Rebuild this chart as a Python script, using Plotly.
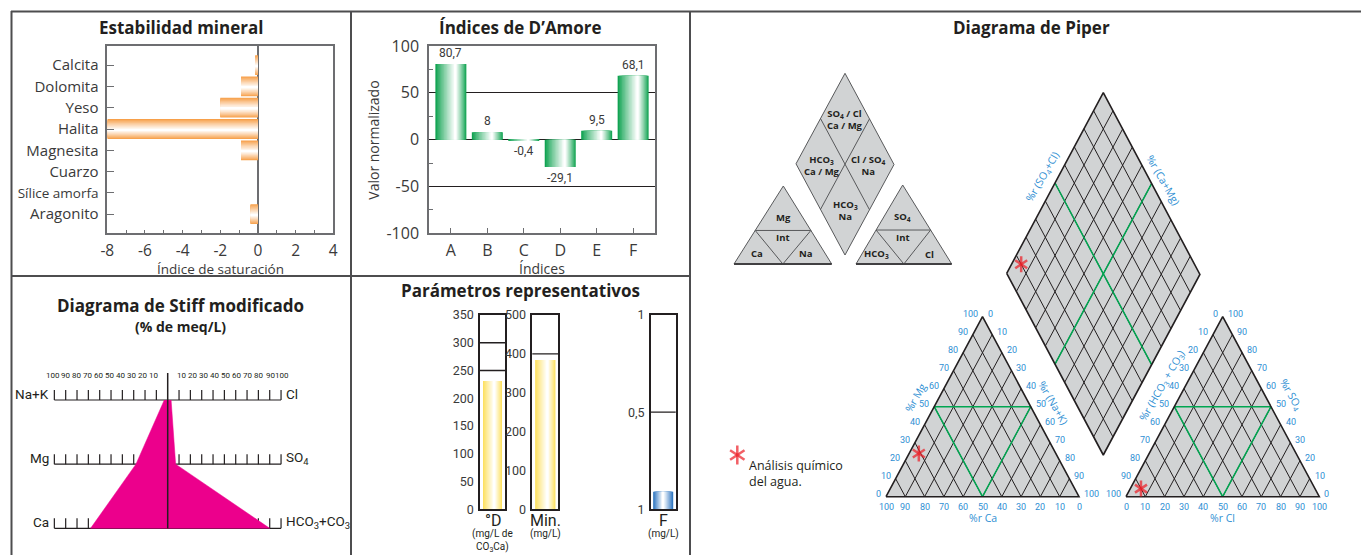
import plotly.graph_objects as go

# The page body has an 8 px margin: the figure starts 8 px right/down of the window corner.
OX, OY = 8, 8
W, H = 1361, 547

# ------------------------------------------------------------------ data
minerals = ["Calcita", "Dolomita", "Yeso", "Halita", "Magnesita", "Cuarzo", "Sílice amorfa", "Aragonito"]
saturation_index = [-0.15, -0.9, -2.0, -8.0, -0.9, 0.0, 0.0, -0.4]
sat_major = [-8, -6, -4, -2, 0, 2, 4]
sat_minor = list(range(-8, 5))

damore_indices = ["A", "B", "C", "D", "E", "F"]
damore_values = [80.7, 8.0, -0.4, -29.1, 9.5, 68.1]
damore_ticks = [-100, -50, 0, 50, 100]

stiff_cations = ["Na+K", "Mg", "Ca"]
stiff_anions = ["Cl", "SO<sub>4</sub>", "HCO<sub>3</sub>+CO<sub>3</sub>"]
stiff_cation_pct = [3, 28, 68]
stiff_anion_pct = [3, 7, 90]
stiff_scale = [10, 20, 30, 40, 50, 60, 70, 80, 90, 100]

param_names = ["°D", "Min.", "F"]
param_units = ["(mg/L de<br>CO<sub>3</sub>Ca)", "(mg/L)", "(mg/L)"]
param_values = [231, 384, 0.09]
param_max = [350, 500, 1]
param_tickvals = [[0, 50, 100, 150, 200, 250, 300, 350], [0, 100, 200, 300, 400, 500], [0, 0.5, 1]]
param_ticktext = [[str(v) for v in param_tickvals[0]], [str(v) for v in param_tickvals[1]], ["1", "0,5", "1"]]
param_limits = [[250, 300], [400], [0.5]]

piper_cations = {"Ca": 71, "Mg": 24, "NaK": 5}
piper_anions = {"HCO3": 90, "SO4": 4.5, "Cl": 5.5}

# ------------------------------------------------------------------ style
FONT = "Open Sans, Noto Sans, sans-serif"
NARROW = "Liberation Sans Narrow, Roboto, sans-serif"
TXT = "#231f20"
TICK = "#3a3a3a"
FRAME = "#6d6e71"
BORDER = "#4d4d4f"
ORANGE = "#f7a04a"
GREEN = "#11a352"
YELLOW = "#fde05e"
BLUE = "#2a73bf"
MAGENTA = "#ec008c"
PGREY = "#d1d3d4"
PGREEN = "#00a651"
PBLUE = "#2f8fd3"
RED = "#ed1c24"


def dom_x(a, b):
    return [(a - OX) / W, (b - OX) / W]


def dom_y(top, bottom):
    return [1 - (bottom - OY) / H, 1 - (top - OY) / H]


def hex2rgb(h):
    h = h.lstrip("#")
    return tuple(int(h[i:i + 2], 16) for i in (0, 2, 4))


def mix(c, t):
    r, g, b = hex2rgb(c)
    return "rgb(%d,%d,%d)" % (round(r + (255 - r) * t), round(g + (255 - g) * t), round(b + (255 - b) * t))


fig = go.Figure()
anns = []
shapes = []
axes = {}


def ann(x, y, text, size=14, color=TXT, family=FONT, xanchor="center", yanchor="middle",
        xref="x", yref="y", **kw):
    anns.append(dict(x=x, y=y, text=text, xref=xref, yref=yref, showarrow=False,
                     xanchor=xanchor, yanchor=yanchor,
                     font=dict(size=size, color=color, family=family), **kw))


def gradient_bar(cats, vals, color, xa, ya, width, center, horizontal=False, n=14):
    for k in range(n):
        t = k / n
        lo = -width / 2 + t * center * width
        hi = width / 2 - t * (1 - center) * width
        col = mix(color, (k / (n - 1)) ** 0.9)
        common = dict(width=hi - lo, offset=lo, marker=dict(color=col, line=dict(width=0)),
                      showlegend=False, hoverinfo="skip", xaxis=xa, yaxis=ya)
        if horizontal:
            fig.add_trace(go.Bar(y=cats, x=vals, orientation="h", **common))
        else:
            fig.add_trace(go.Bar(x=cats, y=vals, **common))


# ------------------------------------------------------------------ canvas (window pixels)
axes["xaxis"] = dict(domain=[0, 1], range=[OX, OX + W], visible=False)
axes["yaxis"] = dict(domain=[0, 1], range=[OY + H, OY], visible=False)

for (x0, y0, x1, y1) in [(11, 11.5, OX + W, 11.5), (11.5, 11, 11.5, OY + H), (351, 11, 351, OY + H),
                         (690, 11, 690, OY + H), (11, 276, 690, 276)]:
    shapes.append(dict(type="line", xref="x", yref="y", x0=x0, x1=x1, y0=y0, y1=y1,
                       line=dict(color=BORDER, width=2)))

ann(180.5, 27.7, "<b>Estabilidad mineral</b>", size=17)
ann(520.7, 27.7, "<b>Índices de D’Amore</b>", size=17)
ann(1031, 27.7, "<b>Diagrama de Piper</b>", size=17)
ann(180.7, 305, "<b>Diagrama de Stiff modificado</b>", size=17)
ann(180.7, 326.7, "<b>(% de meq/L)</b>", size=14)
ann(520.7, 290.7, "<b>Parámetros representativos</b>", size=17)

# ------------------------------------------------------------------ panel 1: Estabilidad mineral
axes["xaxis2"] = dict(domain=dom_x(107.3, 333.3), anchor="y2", range=[-8, 4], tickmode="array",
                      tickvals=sat_major, ticktext=[str(v) for v in sat_major],
                      ticks="inside", ticklen=4, tickcolor=FRAME,
                      minor=dict(tickvals=sat_minor, ticks="inside", ticklen=4, tickcolor=FRAME, showgrid=False),
                      showline=True, mirror=True,
                      linecolor=FRAME, linewidth=1.5, showgrid=False, zeroline=True,
                      zerolinecolor=FRAME, zerolinewidth=1.5,
                      tickfont=dict(family=FONT, size=15.5, color=TICK), ticklabelstandoff=2)
tick_names = [m if m != "Sílice amorfa" else '<span style="font-size:13.5px">Sílice amorfa</span>' for m in minerals]
axes["yaxis2"] = dict(domain=dom_y(46, 233.3), anchor="x2", type="category", categoryorder="array",
                      categoryarray=minerals, tickmode="array", tickvals=minerals, ticktext=tick_names,
                      range=[7.9, -0.9], ticks="inside", ticklen=7,
                      tickcolor=FRAME, showline=True, mirror=True, linecolor=FRAME, linewidth=1.5,
                      showgrid=False, tickfont=dict(family=FONT, size=15, color=TICK),
                      ticklabelstandoff=4)
gradient_bar(minerals, saturation_index, ORANGE, "x2", "y2", 0.93, 0.55, horizontal=True)
ann(220, 268.5, "Índice de saturación", size=13.5, color=TICK)

# ------------------------------------------------------------------ panel 2: D'Amore
axes["xaxis3"] = dict(domain=dom_x(429, 655), anchor="y3", type="category", categoryorder="array",
                      categoryarray=damore_indices, range=[-0.6, 5.6], ticks="inside", ticklen=6,
                      tickcolor=FRAME, showline=True, mirror=True, linecolor=FRAME, linewidth=1.5,
                      showgrid=False, tickfont=dict(family=FONT, size=16, color=TICK),
                      ticklabelstandoff=2)
axes["yaxis3"] = dict(domain=dom_y(46, 233.3), anchor="x3", range=[-100, 100], tickmode="array",
                      tickvals=damore_ticks, ticktext=[str(v) for v in damore_ticks], ticks="",
                      showline=True, mirror=True, linecolor=FRAME, linewidth=1.5, showgrid=True,
                      gridcolor=TXT, gridwidth=1, zeroline=True, zerolinecolor=TXT, zerolinewidth=1,
                      minor=dict(tickvals=[-75, -25, 25, 75], ticks="inside", ticklen=4, tickcolor=FRAME,
                                 showgrid=False),
                      tickfont=dict(family=FONT, size=16, color=TICK), ticklabelstandoff=5)
gradient_bar(damore_indices, damore_values, GREEN, "x3", "y3", 0.85, 0.65)
for c, v in zip(damore_indices, damore_values):
    lab = ("%g" % v).replace(".", ",")
    ann(c, v, lab, size=12, color=TICK, family=NARROW, xref="x3", yref="y3",
        yanchor="bottom" if v > 0 else "top", yshift=2 if v > 0 else -2)
ann(541.7, 268, "Índices", size=14, color=TICK)
ann(372.7, 140, "Valor normalizado", size=14, color=TICK, textangle=-90)

# ------------------------------------------------------------------ panel 3: Stiff
SCX, SK = 167.7, 1.1335        # window px of 0 %, px per %
SR0, SDR = 400.0, 64.15        # window px of first row, px per row
SX0, SX1, SY0, SY1 = 15, 345, 355, 548
axes["xaxis4"] = dict(domain=dom_x(SX0, SX1), anchor="y4", visible=False,
                      range=[(SX0 - SCX) / SK, (SX1 - SCX) / SK])
axes["yaxis4"] = dict(domain=dom_y(SY0, SY1), anchor="x4", visible=False,
                      range=[(SY1 - SR0) / SDR, (SY0 - SR0) / SDR])
tick_h = 10 / SDR
sx, sy = [], []
for r in range(len(stiff_cations)):
    sx += [-100, 100, None]
    sy += [r, r, None]
    for s in stiff_scale:
        for sg in (-1, 1):
            sx += [sg * s, sg * s, None]
            sy += [r, r - tick_h, None]
fig.add_trace(go.Scatter(x=sx, y=sy, mode="lines", line=dict(color=TXT, width=1.2),
                         xaxis="x4", yaxis="y4", hoverinfo="skip", showlegend=False))
rows = list(range(len(stiff_cations)))
poly_x = [-v for v in stiff_cation_pct] + stiff_anion_pct[::-1]
poly_y = rows + rows[::-1]
fig.add_trace(go.Scatter(x=poly_x, y=poly_y, mode="lines", fill="toself", fillcolor=MAGENTA,
                         line=dict(color=MAGENTA, width=0.5), xaxis="x4", yaxis="y4",
                         hoverinfo="skip", showlegend=False))
fig.add_trace(go.Scatter(x=[0, 0], y=[(373 - SR0) / SDR, rows[-1]], mode="lines",
                         line=dict(color=TXT, width=1.5), xaxis="x4", yaxis="y4",
                         hoverinfo="skip", showlegend=False))
scale_row = (375 - SR0) / SDR
for s in stiff_scale:
    for sg in (-1, 1):
        # labels sit slightly nearer the centre than their ticks, as in the printed scale
        ann(sg * (2.5 + 0.975 * s), scale_row, str(s), size=8, family=NARROW, xref="x4", yref="y4",
            xshift=sg * (1.2 if s == 100 else 0))
for r, (cn, an_) in enumerate(zip(stiff_cations, stiff_anions)):
    ann(-100, r, cn, size=13.5, family=NARROW, xref="x4", yref="y4", xanchor="right", xshift=-3, yshift=6)
    ann(100, r, an_, size=13.5, family=NARROW, xref="x4", yref="y4", xanchor="left", xshift=3, yshift=6)

# ------------------------------------------------------------------ panel 4: parámetros
gauges = [(480, 505, 0.76), (532.3, 558.3, 0.78), (650.7, 675.7, 0.8)]
gcolors = [YELLOW, YELLOW, BLUE]
gcenter = [0.6, 0.6, 0.5]
for i, ((gx0, gx1, bw), name, units, val, vmax, tv, tt, lims) in enumerate(
        zip(gauges, param_names, param_units, param_values, param_max, param_tickvals,
            param_ticktext, param_limits)):
    xa, ya = "xaxis%d" % (5 + i), "yaxis%d" % (5 + i)
    xs, ys = "x%d" % (5 + i), "y%d" % (5 + i)
    axes[xa] = dict(domain=dom_x(gx0, gx1), anchor=ys, range=[-0.5, 0.5], showline=True, mirror=True,
                    linecolor=TXT, linewidth=1.5, showticklabels=False, ticks="", showgrid=False,
                    zeroline=False)
    axes[ya] = dict(domain=dom_y(315, 509.3), anchor=xs, range=[0, vmax], tickmode="array",
                    tickvals=tv, ticktext=tt, ticks="", showline=True, mirror=True, linecolor=TXT,
                    linewidth=1.5, showgrid=False, zeroline=False,
                    tickfont=dict(family=NARROW, size=12.5, color=TICK), ticklabelstandoff=2)
    gradient_bar([0], [val], gcolors[i], xs, ys, bw, gcenter[i])
    for lv in lims:
        shapes.append(dict(type="line", xref=xs + " domain", yref=ys, x0=0, x1=1, y0=lv, y1=lv,
                           line=dict(color=TXT, width=1.3)))
    cx = (gx0 + gx1) / 2
    ann(cx, 520, name, size=16, family=NARROW)
    ann(cx, 526, units, size=10, family=NARROW, yanchor="top")

# ------------------------------------------------------------------ panel 5: Piper
LT = dict(base=(886, 496.7), a=(982.5, 316.7), b=(1079, 496.7))
RT = dict(base=(1126, 496.7), a=(1222.7, 316.7), b=(1319.3, 496.7))
DM = dict(base=(1006.7, 273.3), a=(1103.3, 92.7), b=(1103.3, 455.0))


def P(g, u, v):
    bx, by = g["base"]
    return (bx + u * (g["a"][0] - bx) + v * (g["b"][0] - bx),
            by + u * (g["a"][1] - by) + v * (g["b"][1] - by))


def add_poly(pts, fillcolor, linecolor, width):
    xs = [p[0] for p in pts] + [pts[0][0]]
    ys = [p[1] for p in pts] + [pts[0][1]]
    fig.add_trace(go.Scatter(x=xs, y=ys, mode="lines", fill="toself", fillcolor=fillcolor,
                             line=dict(color=linecolor, width=width), hoverinfo="skip",
                             showlegend=False))


def add_segments(segs, color, width):
    xs, ys = [], []
    for p, q in segs:
        xs += [p[0], q[0], None]
        ys += [p[1], q[1], None]
    fig.add_trace(go.Scatter(x=xs, y=ys, mode="lines", line=dict(color=color, width=width),
                             hoverinfo="skip", showlegend=False))


grid, green = [], []
for g in (LT, RT):
    for k in range(1, 10):
        f = k / 10
        grid.append((P(g, 0, f), P(g, 1 - f, f)))
        grid.append((P(g, 0, 1 - f), P(g, 1 - f, 0)))
    green += [(P(g, .5, 0), P(g, .5, .5)), (P(g, .5, .5), P(g, 0, .5)), (P(g, 0, .5), P(g, .5, 0))]
for k in range(1, 10):
    f = k / 10
    grid.append((P(DM, f, 0), P(DM, f, 1)))
    grid.append((P(DM, 0, f), P(DM, 1, f)))
green += [(P(DM, .5, 0), P(DM, .5, 1)), (P(DM, 0, .5), P(DM, 1, .5))]

for g in (LT, RT):
    add_poly([P(g, 0, 0), P(g, 0, 1), P(g, 1, 0)], PGREY, TXT, 0)
add_poly([P(DM, 0, 0), P(DM, 1, 0), P(DM, 1, 1), P(DM, 0, 1)], PGREY, TXT, 0)
add_segments(grid, TXT, 1)
add_segments(green, PGREEN, 1.5)
for g in (LT, RT):
    add_poly([P(g, 0, 0), P(g, 0, 1), P(g, 1, 0)], "rgba(0,0,0,0)", TXT, 1.6)
add_poly([P(DM, 0, 0), P(DM, 1, 0), P(DM, 1, 1), P(DM, 0, 1)], "rgba(0,0,0,0)", TXT, 1.6)

# key diagram
KD = dict(base=(796, 163.8), a=(845, 73.3), b=(845, 255))
KL = dict(base=(734, 264), a=(783.3, 186), b=(831.7, 264))
KR = dict(base=(856, 264), a=(902.7, 185), b=(951.7, 264))
add_poly([P(KD, 0, 0), P(KD, 1, 0), P(KD, 1, 1), P(KD, 0, 1)], PGREY, "#58595b", 1)
for g in (KL, KR):
    add_poly([P(g, 0, 0), P(g, 0, 1), P(g, 1, 0)], PGREY, "#58595b", 1)
key_lines = [(P(KD, .5, 0), P(KD, .5, 1)), (P(KD, 0, .5), P(KD, 1, .5))]
for g in (KL, KR):
    key_lines += [(P(g, .43, 0), P(g, .43, .57)), (P(g, .43, 0), P(g, 0, .5)), (P(g, .43, .57), P(g, 0, .5))]
add_segments(key_lines, "#58595b", 1)
for g in (KL, KR):
    add_segments([(P(g, 0, 0), P(g, 0, 1))], "#414042", 2)
KS = 9.5
ann(845, 119, "<b>SO<sub>4</sub> / Cl<br>Ca / Mg</b>", size=KS)
ann(821.7, 165, "<b>HCO<sub>3</sub><br>Ca / Mg</b>", size=KS)
ann(868.3, 165, "<b>Cl / SO<sub>4</sub><br>Na</b>", size=KS)
ann(845, 210, "<b>HCO<sub>3</sub><br>Na</b>", size=KS)
ann(783.3, 217.3, "<b>Mg</b>", size=KS)
ann(783.3, 237.3, "<b>Int</b>", size=KS)
ann(756.7, 253.3, "<b>Ca</b>", size=KS)
ann(806, 253.3, "<b>Na</b>", size=KS)
ann(902.7, 216.7, "<b>SO<sub>4</sub></b>", size=KS)
ann(902.7, 237.3, "<b>Int</b>", size=KS)
ann(876, 254, "<b>HCO<sub>3</sub></b>", size=KS)
ann(929.3, 254, "<b>Cl</b>", size=KS)

# tick labels
TS = 9
for k in range(11):
    f = k / 10
    x, y = P(LT, f, 0)
    ann(x, y, str(10 * k), size=TS, color=PBLUE, family=NARROW, xanchor="right", xshift=-3, yshift=3)
    x, y = P(LT, 1 - f, f)
    ann(x, y, str(10 * k), size=TS, color=PBLUE, family=NARROW, xanchor="left", xshift=3, yshift=3)
    x, y = P(LT, 0, f)
    ann(x, y, str(100 - 10 * k), size=TS, color=PBLUE, family=NARROW, yanchor="top", yshift=-3)
    x, y = P(RT, f, 0)
    ann(x, y, str(100 - 10 * k), size=TS, color=PBLUE, family=NARROW, xanchor="right", xshift=-3, yshift=3)
    x, y = P(RT, f, 1 - f)
    ann(x, y, str(10 * k), size=TS, color=PBLUE, family=NARROW, xanchor="left", xshift=3, yshift=3)
    x, y = P(RT, 0, f)
    ann(x, y, str(10 * k), size=TS, color=PBLUE, family=NARROW, yanchor="top", yshift=-3)

AS = 10.5
x, y = P(LT, .55, 0); ann(x - 24, y, "%r Mg", size=AS, color=PBLUE, textangle=-60)
x, y = P(LT, .52, .48); ann(x + 24.5, y, "%r (Na+K)", size=AS, color=PBLUE, textangle=60)
x, y = P(LT, 0, .5); ann(x, y + 21.6, "%r Ca", size=AS, color=PBLUE)
x, y = P(RT, .62, 0); ann(x - 24, y, "%r (HCO<sub>3</sub> + CO<sub>3</sub>)", size=AS, color=PBLUE, textangle=-60)
x, y = P(RT, .565, .435); ann(x + 27, y, "%r SO<sub>4</sub>", size=AS, color=PBLUE, textangle=60)
x, y = P(RT, 0, .5); ann(x, y + 21.6, "%r Cl", size=AS, color=PBLUE)
x, y = P(DM, .535, 0); ann(x - 15.4, y, "%r (SO<sub>4</sub>+Cl)", size=AS, color=PBLUE, textangle=-60)
x, y = P(DM, 1, .483); ann(x + 13, y, "%r (Ca+Mg)", size=AS, color=PBLUE, textangle=60)

# sample points
cat_tot = sum(piper_cations.values())
an_tot = sum(piper_anions.values())
pts = [P(LT, piper_cations["Mg"] / cat_tot, piper_cations["NaK"] / cat_tot),
       P(RT, piper_anions["SO4"] / an_tot, piper_anions["Cl"] / an_tot),
       P(DM, (piper_anions["SO4"] + piper_anions["Cl"]) / an_tot, piper_cations["NaK"] / cat_tot)]
legend_pt = (737.3, 455)
for sym in ("y-up", "y-down"):
    fig.add_trace(go.Scatter(x=[p[0] for p in pts] + [legend_pt[0]], y=[p[1] for p in pts] + [legend_pt[1]],
                             mode="markers",
                             marker=dict(symbol=sym, size=[10, 10, 10, 12], line=dict(color=RED, width=2.5)),
                             hoverinfo="skip", showlegend=False))
ann(747.3, 455, "Análisis químico<br>del agua.", size=12.5, xanchor="left", yanchor="top", align="left")

fig.update_layout(width=W, height=H, margin=dict(l=0, r=0, t=0, b=0), template="none",
                  paper_bgcolor="white", plot_bgcolor="rgba(0,0,0,0)", barmode="overlay",
                  showlegend=False, annotations=anns, shapes=shapes, **axes)
fig.write_html("out.html")
